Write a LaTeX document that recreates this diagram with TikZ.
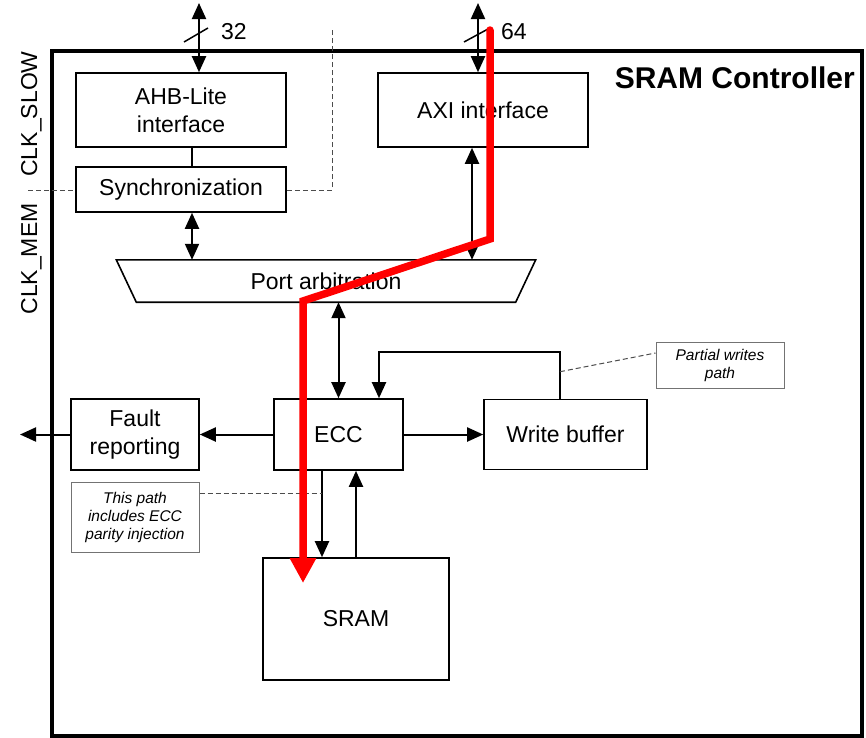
\documentclass[tikz,border=0pt]{standalone}
\usepackage{fontspec}
\setmainfont{Liberation Sans}
\usetikzlibrary{arrows.meta}
\tikzset{
  blk/.style={draw, line width=1.6pt, rectangle, inner sep=0pt, align=center,
    font=\fontsize{23}{28}\selectfont},
  plain/.style={inner sep=0pt, font=\fontsize{23}{28}\selectfont},
  note/.style={draw=black!55, line width=1pt, rectangle, inner sep=0pt, align=center,
    font=\fontsize{15.5}{18}\selectfont\itshape},
  conn/.style={line width=2pt},
  tip/.style={-{Triangle[length=16pt,width=14pt]}},
  both/.style={{Triangle[length=16pt,width=14pt]}-{Triangle[length=16pt,width=14pt]}},
  leader/.style={draw=black!70, line width=1pt, dash pattern=on 5pt off 3pt},
  hot/.style={draw=red, line width=7.5pt, line join=miter,
    -{Triangle[length=25pt,width=25pt]}},
}
\begin{document}
\begin{tikzpicture}[x=1pt,y=-1pt]
\useasboundingbox (0,0) rectangle (866,737);

% controller frame and title
\draw[line width=3.5pt] (52,51) rectangle (862,736);
\node[anchor=base east, inner sep=0pt, font=\fontsize{30}{34}\selectfont\bfseries]
  (title) at (855,88) {SRAM Controller};

% clock domain labels
\node[plain, rotate=90, anchor=base] (clks) at (37,114) {CLK\_SLOW};
\node[plain, rotate=90, anchor=base] (clkm) at (37,259) {CLK\_MEM};

% blocks
\node[blk, minimum width=210pt, minimum height=74pt] (ahb) at (181,110) {AHB-Lite\\interface};
\node[blk, minimum width=210pt, minimum height=45pt] (sync) at (181,189.5) {Synchronization};
\node[blk, minimum width=210pt, minimum height=74pt] (axi) at (483,110) {AXI interface};
\node[plain, minimum width=419pt, minimum height=42pt] (arb) at (326,281) {Port arbitration};
\draw[line width=1.6pt] (arb.north west) -- (arb.north east)
  -- ([xshift=-20pt]arb.south east) -- ([xshift=20pt]arb.south west) -- cycle;
\node[blk, minimum width=129pt, minimum height=71pt] (ecc) at (338.5,434.5) {ECC};
\node[blk, minimum width=128pt, minimum height=71pt] (fault) at (135,434.5) {Fault\\reporting};
\node[blk, minimum width=163pt, minimum height=70pt] (wbuf) at (565.5,434.5) {Write buffer};
\node[blk, minimum width=186pt, minimum height=122pt] (sram) at (356,619) {SRAM};

% annotations
\node[note, minimum width=128pt, minimum height=46pt] (pnote) at (720,365) {Partial writes\\path};
\node[note, minimum width=128pt, minimum height=70pt] (inote) at (135,517)
  {This path\\includes ECC\\parity injection};

% external buses
\coordinate (ahbext) at (199,3);
\coordinate (axiext) at (478,3);
\draw[conn,both] (ahbext) -- (ahbext |- ahb.north);
\draw[conn,both] (axiext) -- (axiext |- axi.north);
\draw[line width=1.5pt] (184,42) -- (208,28);
\draw[line width=1.5pt] (464,42) -- (488,29);
\node[plain, anchor=base west] (w32) at (221,39) {32};
\node[plain, anchor=base west] (w64) at (501,39) {64};

% clock domain boundary
\coordinate (clkl) at (28,190);
\coordinate (clkt) at (332,28);
\draw[leader] (clkl) -- (clkl -| sync.west);
\draw[leader] (sync.east |- clkl) -| (clkt);

% internal connections
\draw[conn] ([xshift=11pt]ahb.south) -- ([xshift=11pt]sync.north);
\coordinate (syncd) at ([xshift=11pt]sync.south);
\draw[conn,both] (syncd) -- (syncd |- arb.north);
\coordinate (axid) at ([xshift=-11pt]axi.south);
\draw[conn,both] (axid) -- (axid |- arb.north);
\draw[conn,both] (ecc.north |- arb.south) -- (ecc.north);
\draw[conn,tip] ([xshift=-5.5pt]wbuf.north) -- ++(0,-47) -| ([xshift=40.5pt]ecc.north);
\draw[conn,tip] (ecc.east) -- (wbuf.west);
\draw[conn,tip] (ecc.west) -- (fault.east);
\coordinate (faultout) at (20,434.5);
\draw[conn,tip] (fault.west) -- (faultout);
\coordinate (eccd) at ([xshift=-16.5pt]ecc.south);
\draw[conn,tip] (eccd) -- (eccd |- sram.north);
\draw[conn,tip] (sram.north) -- (sram.north |- ecc.south);

% annotation leaders
\coordinate (pw) at ([xshift=-5.5pt,yshift=27pt]wbuf.north);
\draw[leader] (pw) -- ([yshift=12pt]pnote.west);
\coordinate (ip) at ([yshift=24pt]inote.east);
\draw[leader] (ip) -- (eccd |- ip);

% highlighted data path
\coordinate (r0) at (490,30);
\coordinate (r1) at (490,239);
\coordinate (r2) at (303,301);
\coordinate (r3) at (303,583);
\draw[hot] (r0) -- (r1) -- (r2) -- (r3);
\fill[red] (r0) circle (3.75pt);
\end{tikzpicture}
\end{document}
